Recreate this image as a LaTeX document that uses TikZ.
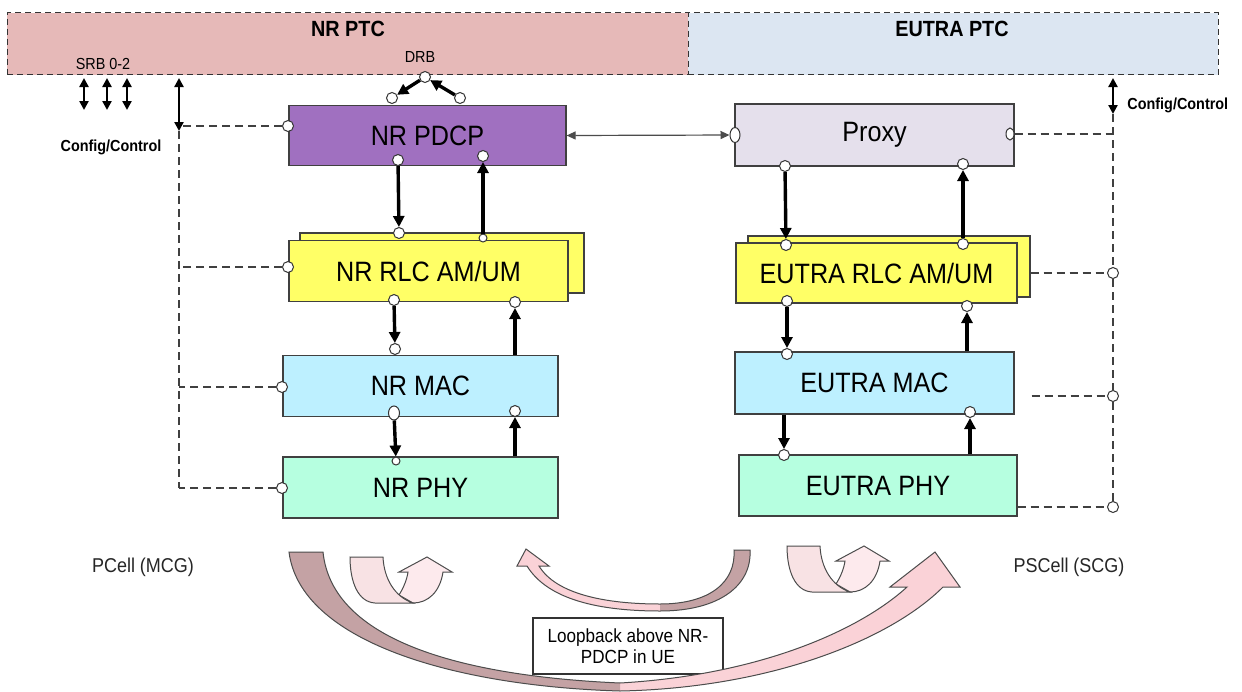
\documentclass[tikz,border=0pt]{standalone}
\usepackage{fontspec}
\setmainfont{Liberation Sans}[FakeStretch=0.9]
\usepackage{tikz}
\usetikzlibrary{arrows.meta,shapes.geometric,positioning}

\definecolor{nrpink}{HTML}{E6B9B8}
\definecolor{eutrablue}{HTML}{DCE6F2}
\definecolor{pdcpviolet}{HTML}{A070C0}
\definecolor{proxylilac}{HTML}{E5E0EC}
\definecolor{rlcyellow}{HTML}{FFFF66}
\definecolor{maccyan}{HTML}{BDF0FF}
\definecolor{phymint}{HTML}{B6FFE0}
\definecolor{arrowdark}{HTML}{C4A2A4}
\definecolor{arrowpink}{HTML}{FAD2D7}
\definecolor{turnback}{HTML}{FDEAED}
\definecolor{turnfront}{HTML}{F8E2E4}

\newcommand{\layerfont}{\fontsize{14}{16}\selectfont}
\newcommand{\ptcfont}{\fontsize{11}{13}\selectfont\bfseries}
\newcommand{\tagfont}{\fontsize{8}{9}\selectfont}
\newcommand{\cellfont}{\fontsize{10}{12}\selectfont}
\newcommand{\notefont}{\fontsize{9.5}{10.5}\selectfont}

\tikzset{
  ptc/.style={draw=black!80, densely dashed, line width=0.5pt, minimum height=31pt, inner sep=0pt},
  ptctitle/.style={font=\ptcfont, inner sep=0pt},
  smalltag/.style={font=\tagfont, inner sep=0pt},
  stackbox/.style={draw=black!75, line width=0.6pt, minimum height=30.5pt, inner sep=0pt, font=\layerfont},
  port/.style={ellipse, draw=black!80, fill=white, line width=0.5pt, inner sep=0pt, minimum width=5.5pt, minimum height=5.5pt},
  flow/.style={-{Triangle[length=5.5pt,width=5.5pt]}, line width=1.7pt},
  twoway/.style={{Triangle[length=4.5pt,width=4.5pt]}-{Triangle[length=4.5pt,width=4.5pt]}, line width=1.4pt},
  link/.style={{Triangle[length=4.5pt,width=4pt]}-{Triangle[length=4.5pt,width=4pt]}, draw=black!70, line width=0.6pt},
  ctl/.style={draw=black!75, line width=0.7pt, dash pattern=on 4pt off 2.5pt},
  celltext/.style={font=\cellfont, text=black!85, inner sep=0pt},
  notebox/.style={draw=black!80, fill=white, line width=0.6pt, minimum width=95pt, minimum height=28pt, align=center, font=\notefont},
  swoosh/.style={draw=black!70, line width=0.5pt}
}

\begin{document}
\begin{tikzpicture}[x=0.5pt, y=-0.5pt]
\useasboundingbox (0,0) rectangle (1242,691);
\fill[white] (0,0) rectangle (1242,691);

% test components
\node[ptc, fill=nrpink, minimum width=340.5pt] (nrptc) at (347.5,43.5) {};
\node[ptc, fill=eutrablue, minimum width=265pt] (eutraptc) at (953,43.5) {};
\node[ptctitle] (nrptctxt) at (348,29) {NR PTC};
\node[ptctitle] (eutraptctxt) at (952,29) {EUTRA PTC};
\node[smalltag] (srbtxt) at (103,64) {SRB 0-2};
\node[smalltag] (drbtxt) at (420,57) {DRB};

% NR stack
\node[stackbox, fill=pdcpviolet, minimum width=138.5pt, minimum height=30pt] (nrpdcp) at (427.5,135.5) {NR PDCP};
\node[stackbox, fill=rlcyellow, minimum width=142pt, minimum height=30pt] (nrrlcback) at (442,263) {};
\node[stackbox, fill=rlcyellow, minimum width=139.5pt] (nrrlc) at (428.5,271) {NR RLC AM/UM};
\node[stackbox, fill=maccyan, minimum width=137.5pt] (nrmac) at (420.5,386) {NR MAC};
\node[stackbox, fill=phymint, minimum width=137.5pt] (nrphy) at (420.5,487.5) {NR PHY};

% EUTRA stack
\node[stackbox, fill=proxylilac, minimum width=139.5pt, minimum height=31pt] (proxy) at (874.5,135) {Proxy};
\node[stackbox, fill=rlcyellow, minimum width=141pt] (erlcback) at (889,266.5) {};
\node[stackbox, fill=rlcyellow, minimum width=140.5pt, minimum height=30pt] (erlc) at (876.5,273) {EUTRA RLC AM/UM};
\node[stackbox, fill=maccyan, minimum width=139.5pt, minimum height=31pt] (emac) at (874.5,383) {EUTRA MAC};
\node[stackbox, fill=phymint, minimum width=139pt] (ephy) at (878,485.5) {EUTRA PHY};

% ports
\node[port] (drb) at (425,77) {};
\node[port] (pdcpdl) at (392,98) {};
\node[port] (pdcpul) at (460,98) {};
\node[port] (pdcpctl) at (288,126) {};
\node[port] (pdcpout) at (398,160) {};
\node[port] (pdcpin) at (483,156) {};
\node[port] (rlcin) at (399,233) {};
\node[port, minimum size=4pt] (rlcout) at (483,238) {};
\node[port] (rlcctl) at (288,267) {};
\node[port] (rlcdl) at (394,300) {};
\node[port] (rlcul) at (515,302) {};
\node[port] (macin) at (395,349) {};
\node[port] (macctl) at (282,387) {};
\node[port, minimum height=7pt] (macdl) at (394,413) {};
\node[port] (macul) at (515,411) {};
\node[port, minimum size=4pt] (phyin) at (396,461) {};
\node[port] (phyctl) at (282,488) {};

\node[port, minimum width=5pt, minimum height=7.5pt] (proxyin) at (735,135) {};
\node[port, minimum width=4pt, minimum height=6pt] (proxyctl) at (1010,134) {};
\node[port] (proxydl) at (785,166) {};
\node[port] (proxyul) at (963,164) {};
\node[port] (erlcin) at (786,245) {};
\node[port] (erlcout) at (963,244) {};
\node[port] (erlcdl) at (787,301) {};
\node[port] (erlcul) at (967,306) {};
\node[port] (emacin) at (787,354) {};
\node[port] (emacul) at (970,412) {};
\node[port] (ephyin) at (784,455) {};
\node[port] (erlcctl) at (1113,273) {};
\node[port] (emacctl) at (1113,396) {};
\node[port] (ephyctl) at (1113,507) {};

% config/control
\coordinate (ctltop) at (179,78);
\coordinate (ctlbot) at (179,131);
\coordinate (ctlend) at (179,488);
\coordinate (ectltop) at (1113,78);
\coordinate (ectlbot) at (1113,114);
\foreach \sx [count=\i] in {84,107,127} {
  \coordinate (srbtop\i) at (\sx,78);
  \coordinate (srbbot\i) at (\sx,110);
  \draw[twoway] (srbtop\i) -- (srbbot\i);
}
\draw[twoway] (ctltop) -- (ctlbot);
\draw[twoway] (ectltop) -- (ectlbot);
\node[smalltag, font=\tagfont\bfseries] (ctltxt) at (111,147) {Config/Control};
\node[smalltag, font=\tagfont\bfseries, anchor=west] (ectltxt) at (1127,105) {Config/Control};

\draw[ctl] (pdcpctl) -- (pdcpctl -| ctltop);
\draw[ctl] (ctlbot) -- (ctlend);
\draw[ctl] (rlcctl) -- (rlcctl -| ctlend);
\draw[ctl] (macctl) -- (macctl -| ctlend);
\draw[ctl] (phyctl) -- (ctlend);

\draw[ctl] (proxyctl) -- (proxyctl -| ectlbot);
\draw[ctl] (ectlbot) -- (erlcctl) -- (emacctl) -- (ephyctl);
\draw[ctl] (erlcback.east |- erlcctl) -- (erlcctl);
\draw[ctl] ([xshift=8.5pt]emac.east |- emacctl) -- (emacctl);
\draw[ctl] (ephy.east |- ephyctl) -- (ephyctl);

% data path
\draw[flow] (drb) -- (pdcpdl);
\draw[flow] (pdcpul) -- (drb);
\draw[flow] (pdcpout) -- (rlcin);
\draw[flow] (rlcout) -- (pdcpin);
\draw[flow] (rlcdl) -- (macin);
\draw[flow] (nrmac.north -| rlcul) -- (rlcul);
\draw[flow] (macdl) -- (phyin);
\draw[flow] (nrphy.north -| macul) -- (macul);

\draw[flow] (proxydl) -- (erlcin);
\draw[flow] (erlcout) -- (proxyul);
\draw[flow] (erlcdl) -- (emacin);
\draw[flow] (emac.north -| erlcul) -- (erlcul);
\draw[flow] (emac.south -| ephyin) -- (ephyin);
\draw[flow] (ephy.north -| emacul) -- (emacul);

\draw[link] (nrpdcp.east) -- (proxyin);

% cells and loopback
\node[celltext] (pcell) at (143,567) {PCell (MCG)};
\node[celltext] (pscell) at (1069,567) {PSCell (SCG)};
\node[notebox] (loopback) at (628,646) {Loopback above NR-\\PDCP in UE};

% big swoosh
\fill[arrowpink] (289,552) .. controls (300,640) and (450,686) .. (620,691) .. controls (770,688) and (890,640) .. (943,587) -- (960,587) -- (935,552) -- (890,587) -- (907,587) .. controls (860,630) and (760,675) .. (620,683) .. controls (460,676) and (332,640) .. (323,552) -- cycle;
\fill[arrowdark] (289,552) .. controls (300,640) and (450,686) .. (620,691) -- (620,683) .. controls (460,676) and (332,640) .. (323,552) -- cycle;
\draw[swoosh] (289,552) .. controls (300,640) and (450,686) .. (620,691) .. controls (770,688) and (890,640) .. (943,587) -- (960,587) -- (935,552) -- (890,587) -- (907,587) .. controls (860,630) and (760,675) .. (620,683) .. controls (460,676) and (332,640) .. (323,552) -- cycle;

% small swoosh
\fill[arrowpink] (527,566) .. controls (548,600) and (600,611) .. (660,611) .. controls (720,611) and (752,585) .. (750,550) -- (734,550) .. controls (736,582) and (710,604) .. (660,604) .. controls (605,604) and (556,594) .. (539,566) -- (549,566) -- (526,549) -- (517,566) -- cycle;
\fill[arrowdark] (660,611) .. controls (720,611) and (752,585) .. (750,550) -- (734,550) .. controls (736,582) and (710,604) .. (660,604) -- cycle;
\draw[swoosh] (527,566) .. controls (548,600) and (600,611) .. (660,611) .. controls (720,611) and (752,585) .. (750,550) -- (734,550) .. controls (736,582) and (710,604) .. (660,604) .. controls (605,604) and (556,594) .. (539,566) -- (549,566) -- (526,549) -- (517,566) -- cycle;

% u-turns
\foreach \ux/\uy in {350/557, 787/546} {
  \begin{scope}[shift={(\ux,\uy)}]
    \filldraw[swoosh, fill=turnback] (49,38) .. controls (54,30) and (57,22) .. (58,15) -- (49,15) -- (77,0) -- (102,15) -- (93,15) .. controls (90,35) and (78,46) .. (63,46) -- cycle;
    \filldraw[swoosh, fill=turnfront] (0,0) -- (33,0) .. controls (34,22) and (45,40) .. (63,46) -- (25,46) .. controls (8,45) and (0,25) .. (0,0) -- cycle;
  \end{scope}
}
\end{tikzpicture}
\end{document}
